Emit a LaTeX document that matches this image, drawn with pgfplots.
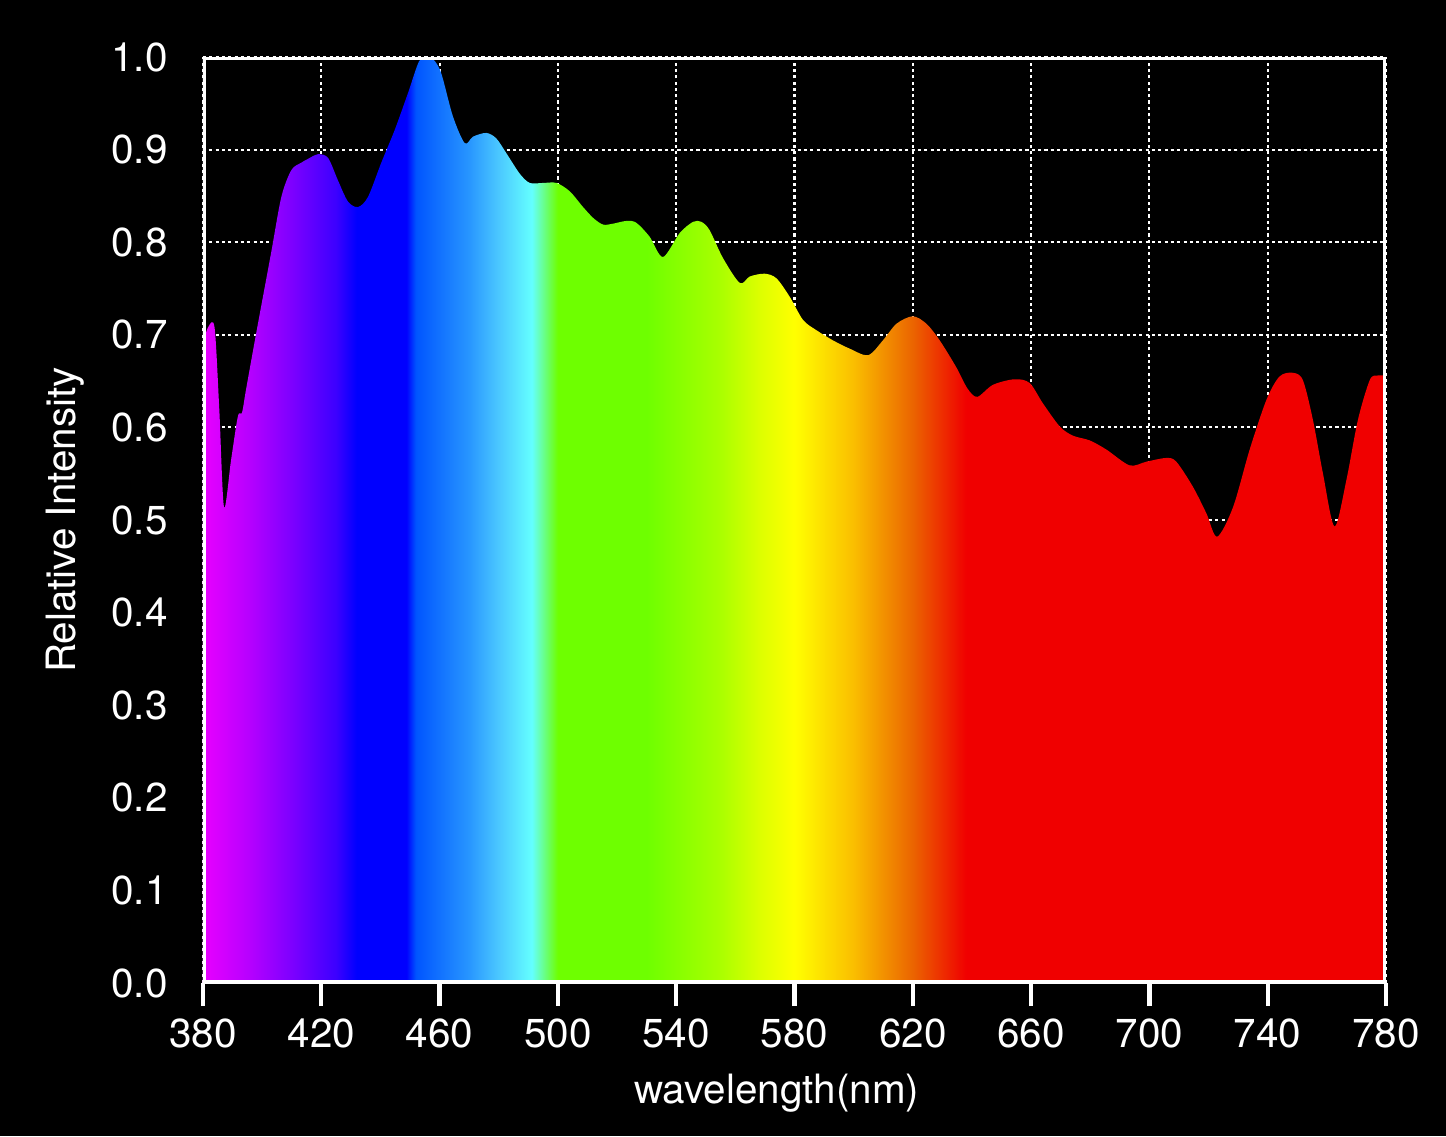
\documentclass[border=0pt]{standalone}
\usepackage{fontspec}
\setmainfont{TeX Gyre Heros}
\usepackage{pgfplots}
\pgfplotsset{compat=1.18}

% spectrum colours
\definecolor{c380}{RGB}{232,0,255}
\definecolor{c395}{RGB}{185,0,255}
\definecolor{c410}{RGB}{125,0,255}
\definecolor{c425}{RGB}{60,0,255}
\definecolor{c432}{RGB}{0,0,255}
\definecolor{c452}{RGB}{0,85,255}
\definecolor{c470}{RGB}{40,150,255}
\definecolor{c480}{RGB}{75,200,255}
\definecolor{c490}{RGB}{100,255,255}
\definecolor{c500}{RGB}{110,255,0}
\definecolor{c555}{RGB}{170,255,0}
\definecolor{c568}{RGB}{220,255,0}
\definecolor{c580}{RGB}{255,255,0}
\definecolor{c600}{RGB}{250,190,0}
\definecolor{c620}{RGB}{235,100,0}
\definecolor{c638}{RGB}{240,0,0}

% 25bp..75bp of the shading covers 380..780 nm
\pgfdeclarehorizontalshading{spectrum}{100bp}{
  color(0bp)=(c380); color(25bp)=(c380); color(26.875bp)=(c395);
  color(28.75bp)=(c410); color(30.625bp)=(c425); color(31.5bp)=(c432);
  color(33.6bp)=(c432); color(34bp)=(c452); color(36.25bp)=(c470);
  color(37.5bp)=(c480); color(38.9bp)=(c490); color(40bp)=(c500);
  color(43.75bp)=(c500); color(46.875bp)=(c555); color(48.5bp)=(c568);
  color(50bp)=(c580); color(52.5bp)=(c600); color(55bp)=(c620);
  color(57.25bp)=(c638); color(100bp)=(c638)}

\begin{document}
\begin{tikzpicture}
\fill[black] (-2.03cm,-1.53cm) rectangle (12.43cm,9.83cm);
\begin{axis}[
  scale only axis, width=11.83cm, height=9.26cm,
  at={(0,0)}, anchor=south west,
  xmin=380, xmax=780, ymin=0, ymax=1,
  xtick={380,420,460,500,540,580,620,660,700,740,780},
  ytick={0,0.1,0.2,0.3,0.4,0.5,0.6,0.7,0.8,0.9,1.0},
  xtick pos=bottom, ytick pos=left,
  grid=major,
  grid style={white, line width=0.6pt, dash pattern=on 0.9pt off 0.9pt},
  axis line style={draw=none},
  tick align=outside, major tick length=2.3mm,
  xtick style={white, line width=1.2pt},
  ytick style={draw=none},
  tick label style={white, font=\fontsize{11.5}{13}\selectfont},
  /pgf/number format/assume math mode=true,
  yticklabel style={/pgf/number format/.cd, fixed, fixed zerofill, precision=1},
  xlabel={wavelength(nm)}, ylabel={Relative Intensity},
  every axis x label/.style={at={(axis description cs:0.485,-0.1188)}, anchor=center},
  every axis y label/.style={at={(axis description cs:-0.1167,0.5)}, rotate=90, anchor=center},
  label style={white, font=\fontsize{11.5}{13}\selectfont},
]
\addplot[shading=spectrum, draw=none, smooth, tension=0.5] coordinates {
  (380,0.69) (381.7,0.708) (383.9,0.708) (385.5,0.62) (387.1,0.514)
  (389.5,0.565) (391.8,0.612) (393.2,0.616) (394.5,0.64) (398,0.702)
  (403,0.788) (406.5,0.849) (409.9,0.878) (413.3,0.886) (415.5,0.89)
  (418.9,0.895) (422.3,0.891) (425.6,0.867) (429,0.844) (432.4,0.838)
  (435.8,0.849) (440.3,0.886) (444.8,0.921) (449.3,0.961) (453,0.995)
  (455.5,1.0) (458,0.997) (460.6,0.982) (464.5,0.936) (468.5,0.907)
  (471.3,0.914) (475.8,0.918) (479.2,0.912) (482.6,0.896) (487.1,0.874)
  (490.5,0.864) (495,0.864) (499.5,0.864) (504,0.855) (508.5,0.838)
  (512,0.826) (515.3,0.819) (518.6,0.820) (523.2,0.823) (526.5,0.821)
  (531,0.806) (535.5,0.784) (541.2,0.810) (545.7,0.822) (548.5,0.822)
  (551.3,0.813) (555.8,0.783) (561.5,0.756) (564.9,0.763) (569.9,0.766)
  (573.9,0.761) (578.4,0.741) (582.9,0.716) (587.4,0.705) (593,0.694)
  (598.7,0.685) (604.9,0.678) (609.9,0.694) (614.5,0.712) (620,0.720)
  (624.6,0.712) (629.1,0.694) (634.7,0.665) (638.5,0.642) (641.8,0.633)
  (647.1,0.646) (654.4,0.652) (659.5,0.648) (664,0.626) (669.7,0.601)
  (674.2,0.591) (679.8,0.586) (685.5,0.576) (693.3,0.559) (699,0.563)
  (705.7,0.567) (709.1,0.563) (714.7,0.536) (719.3,0.507) (722.9,0.482)
  (728.3,0.514) (733.9,0.576) (739.6,0.630) (744,0.655) (748.5,0.659)
  (751.9,0.651) (755.3,0.608) (758.7,0.550) (762.6,0.493) (766.6,0.543)
  (770.5,0.608) (774.5,0.651) (777,0.656) (780,0.656)
} \closedcycle;
\draw[white, line width=1.5pt] (rel axis cs:0,0) rectangle (rel axis cs:1,1);
\end{axis}
\end{tikzpicture}
\end{document}
